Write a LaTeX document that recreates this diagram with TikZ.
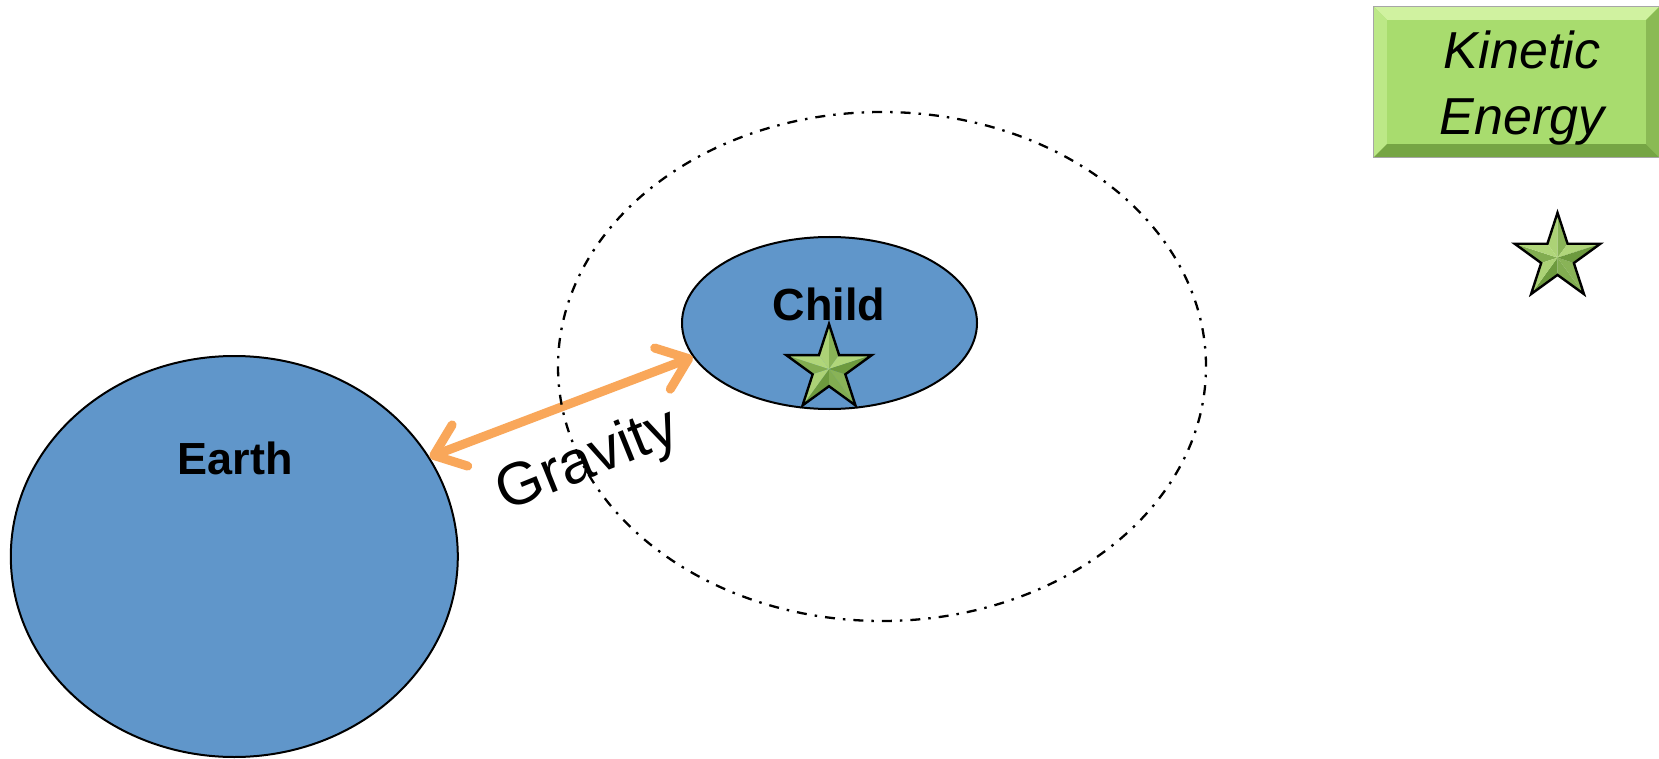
\documentclass[tikz,border=0pt]{standalone}
\usepackage{fontspec}
\setmainfont{Liberation Sans}
\usetikzlibrary{shapes.geometric,arrows.meta,calc}
\definecolor{bodyblue}{RGB}{96,150,202}
\definecolor{gravorange}{RGB}{249,167,90}
\definecolor{boxgreen}{RGB}{168,220,110}
\definecolor{boxlight}{RGB}{208,242,160}
\definecolor{boxlightb}{RGB}{188,232,135}
\definecolor{boxdark}{RGB}{118,165,68}
\definecolor{boxdarkb}{RGB}{138,186,84}
\definecolor{starlight}{RGB}{185,222,130}
\definecolor{stardark}{RGB}{105,150,58}

\newcommand{\bevelstar}[3]{%
  \coordinate (#1c) at (#2,#3);
  \foreach \i in {0,...,4}{%
    \pgfmathsetmacro{\a}{90+72*\i}%
    \pgfmathsetmacro{\tl}{50+45*cos(\a+72-120)}%
    \pgfmathsetmacro{\tr}{50+45*cos(\a-72-120)}%
    \fill[starlight!\tl!stardark] (#1c) -- ($(#1c)+(\a:45)$) -- ($(#1c)+({\a+36}:17.2)$) -- cycle;
    \fill[starlight!\tr!stardark] (#1c) -- ($(#1c)+(\a:45)$) -- ($(#1c)+({\a-36}:17.2)$) -- cycle;
  }
  \node[starshape] (#1) at (#1c) {};
}

\begin{document}
\begin{tikzpicture}[x=1pt,y=1pt,
  body/.style={ellipse, draw=black, line width=2pt, fill=bodyblue, inner sep=0pt},
  orbit/.style={ellipse, draw=black, line width=2.3pt, inner sep=0pt,
    dash pattern=on 10pt off 8pt on 2.5pt off 8pt},
  lbl/.style={font=\fontsize{45}{54}\selectfont\bfseries, inner sep=0pt},
  gravarrow/.style={draw=gravorange, line width=9pt, line cap=round,
    {Straight Barb[length=28pt,width=44pt,round]}-{Straight Barb[length=28pt,width=44pt,round]}},
  kebox/.style={rectangle, fill=boxgreen, minimum width=285pt, minimum height=150pt, inner sep=0pt},
  ketext/.style={align=center, font=\fontsize{52}{66}\selectfont\itshape, inner sep=0pt},
  starshape/.style={star, star points=5, star point ratio=2.618, minimum size=90pt,
    inner sep=0pt, draw=black, line width=2.4pt, line join=miter}
]
\useasboundingbox (0,0) rectangle (1659,-759);
\fill[white] (0,0) rectangle (1659,-759);

% bodies
\node[body, minimum width=447pt, minimum height=401pt] (earth) at (234.3,-556.5) {};
\node[body, minimum width=295pt, minimum height=172pt] (child) at (829.5,-323) {};

% gravity arrow
\draw[gravarrow] (earth.27) -- (child.194);

% orbit
\node[orbit, minimum width=648pt, minimum height=509pt] (orbit) at (882,-366.5) {};

% labels
\node[lbl, anchor=base] (earthlbl) at (235,-474) {Earth};
\node[lbl, anchor=base] (childlbl) at (829,-320) {Child};
\node[rotate=22, font=\fontsize{60}{64}\selectfont, inner sep=0pt] (gravity) at (588,-462) {Gravity};

% stars
\bevelstar{childstar}{829}{-369}
\bevelstar{kestar}{1557.5}{-257.7}

% kinetic energy box
\node[kebox] (ke) at (1516.5,-82) {};
\fill[boxlight] (ke.north west) -- (ke.north east) -- ($(ke.north east)+(-13,-13)$) -- ($(ke.north west)+(13,-13)$) -- cycle;
\fill[boxlightb] (ke.north west) -- ($(ke.north west)+(13,-13)$) -- ($(ke.south west)+(13,13)$) -- (ke.south west) -- cycle;
\fill[boxdark] (ke.south west) -- ($(ke.south west)+(13,13)$) -- ($(ke.south east)+(-13,13)$) -- (ke.south east) -- cycle;
\fill[boxdarkb] (ke.north east) -- (ke.south east) -- ($(ke.south east)+(-13,13)$) -- ($(ke.north east)+(-13,-13)$) -- cycle;
\draw[black!35, line width=1pt] (ke.north west) rectangle (ke.south east);
\node[ketext] (ketxt) at (1522,-88) {Kinetic\\Energy};
\end{tikzpicture}
\end{document}
